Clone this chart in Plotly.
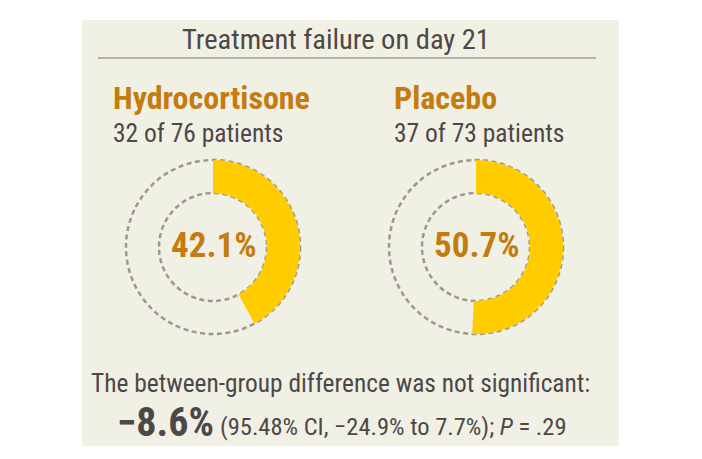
import plotly.graph_objects as go

# ---- data ----
groups = ["Hydrocortisone", "Placebo"]
failures = [32, 37]
totals = [76, 73]
percent_labels = ["42.1%", "50.7%"]
title_text = "Treatment failure on day 21"
summary_text = "The between-group difference was not significant:"
diff_label = "\u22128.6%"
ci_label = "(95.48% CI, \u221224.9% to 7.7%); <i>P</i> = .29"

# ---- style ----
W, H = 702, 459
PANEL = "#F1F0E4"
YELLOW = "#FFCC00"
ORANGE = "#C47C10"
DARK = "#4D4748"
DASH = "#9C988F"
RULE = "#B7B3A3"
FONT = "Roboto Condensed"

centers_x = [213, 476]
center_y = 247
R_OUT, R_IN = 87, 54
label_x = [111, 392]

fig = go.Figure()

# invisible pixel-space axes
fig.add_trace(go.Scatter(x=[0, W], y=[0, H], mode="markers", marker=dict(opacity=0),
                         hoverinfo="skip", showlegend=False))

shapes = [dict(type="rect", xref="x", yref="y", x0=82, x1=619, y0=20, y1=446,
               fillcolor=PANEL, line=dict(width=0), layer="below"),
          dict(type="line", xref="x", yref="y", x0=98, x1=596, y0=58, y1=58,
               line=dict(color=RULE, width=2), layer="below")]

annotations = [dict(x=336, y=39, xref="x", yref="y", text=title_text, showarrow=False,
                    font=dict(family=FONT, size=28.5, color=DARK), xanchor="center", yanchor="middle")]

for i, g in enumerate(groups):
    cx = centers_x[i]
    for r in (R_OUT, R_IN):
        shapes.append(dict(type="circle", xref="x", yref="y", x0=cx - r, x1=cx + r,
                           y0=center_y - r, y1=center_y + r,
                           line=dict(color=DASH, width=2.5, dash="5px,3.5px"), layer="below"))
    fig.add_trace(go.Pie(values=[failures[i], totals[i] - failures[i]], sort=False,
                         direction="clockwise", rotation=0, hole=R_IN / R_OUT,
                         marker=dict(colors=[YELLOW, "rgba(0,0,0,0)"], line=dict(width=0)),
                         textinfo="none", hoverinfo="skip", showlegend=False,
                         domain=dict(x=[(cx - R_OUT) / W, (cx + R_OUT) / W],
                                     y=[1 - (center_y + R_OUT) / H, 1 - (center_y - R_OUT) / H])))
    annotations.append(dict(x=label_x[i], y=98, xref="x", yref="y", text="<b>%s</b>" % g,
                            showarrow=False, xanchor="left", yanchor="middle",
                            font=dict(family=FONT, size=32, color=ORANGE)))
    annotations.append(dict(x=label_x[i], y=133, xref="x", yref="y",
                            text="%d of %d patients" % (failures[i], totals[i]),
                            showarrow=False, xanchor="left", yanchor="middle",
                            font=dict(family=FONT, size=25.5, color=DARK)))
    annotations.append(dict(x=cx + 1, y=center_y - 2, xref="x", yref="y",
                            text="<b>%s</b>" % percent_labels[i], showarrow=False,
                            xanchor="center", yanchor="middle",
                            font=dict(family=FONT, size=35, color=ORANGE)))

annotations.append(dict(x=340, y=383, xref="x", yref="y", text=summary_text, showarrow=False,
                        xanchor="center", yanchor="middle",
                        font=dict(family=FONT, size=25.4, color=DARK)))
annotations.append(dict(x=216, y=422, xref="x", yref="y", text="<b>%s</b>" % diff_label,
                        showarrow=False, xanchor="right", yanchor="middle",
                        font=dict(family=FONT, size=40, color=DARK)))
annotations.append(dict(x=218, y=426, xref="x", yref="y", text=ci_label, showarrow=False,
                        xanchor="left", yanchor="middle",
                        font=dict(family=FONT, size=24.5, color=DARK)))

fig.update_layout(width=W, height=H, margin=dict(l=0, r=0, t=0, b=0),
                  paper_bgcolor="white", plot_bgcolor="white",
                  xaxis=dict(range=[0, W], visible=False, fixedrange=True),
                  yaxis=dict(range=[H, 0], visible=False, fixedrange=True),
                  shapes=shapes, annotations=annotations, showlegend=False)

fig.write_html("out.html", config=dict(displayModeBar=False),
               post_script="document.body.style.margin='0px';")
